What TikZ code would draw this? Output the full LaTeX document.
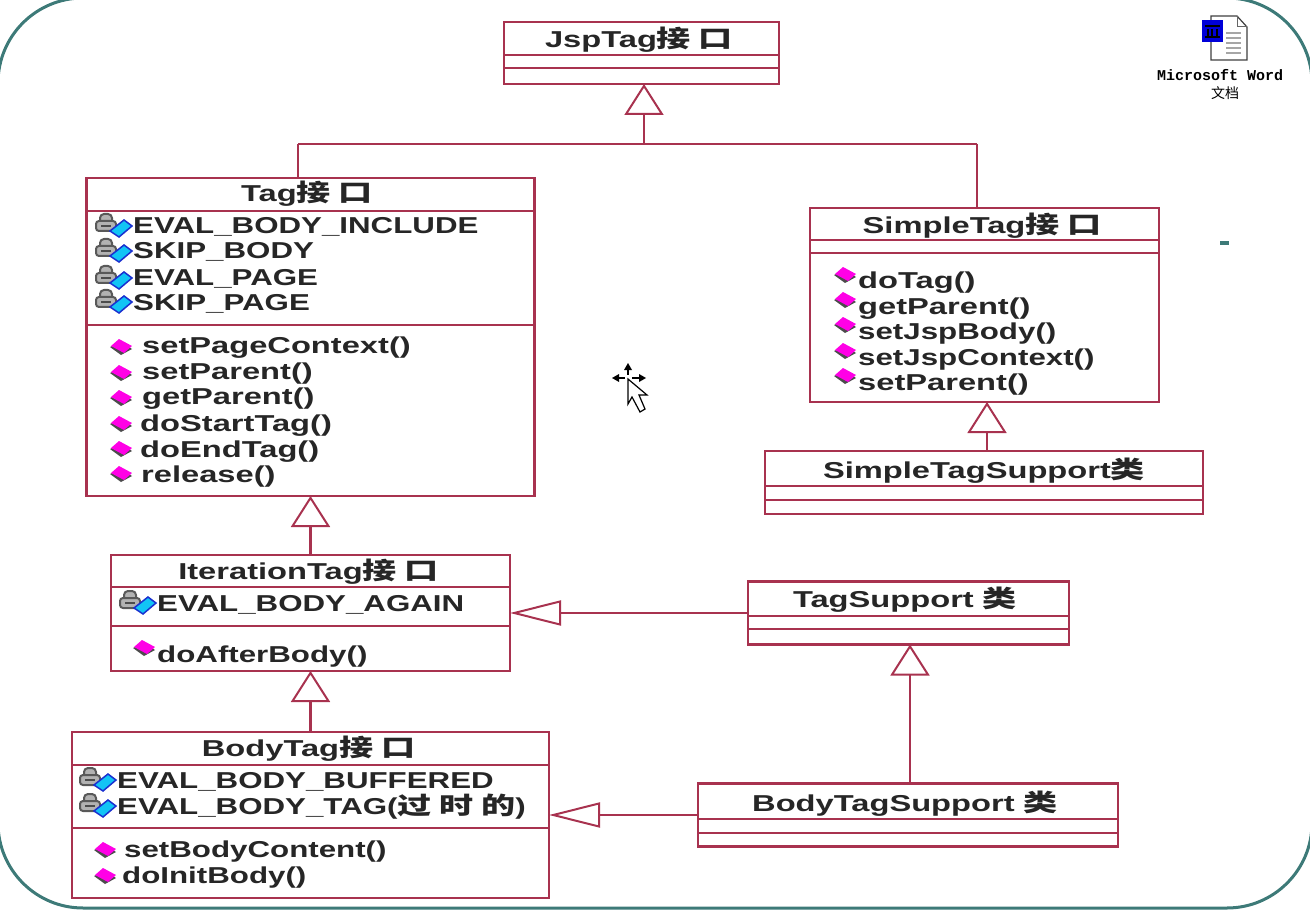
\documentclass[tikz,border=0pt]{standalone}
\usepackage{fontspec}
\setmainfont{Liberation Sans}[FakeStretch=1.36]
\newfontfamily\wideopfont{Liberation Sans}[FakeStretch=1.42]
\newfontfamily\zhwide{Noto Sans CJK SC}[FakeStretch=1.42]
\newfontfamily\zhfont{Noto Sans CJK SC}
\newfontfamily\iconfont{Liberation Mono}
\usepackage{tikz}
\usetikzlibrary{arrows.meta}
\definecolor{umlred}{HTML}{A8324F}
\definecolor{umlink}{HTML}{262626}
\definecolor{frameteal}{HTML}{3D7A78}
\definecolor{opmagenta}{HTML}{FF00E6}
\definecolor{attrcyan}{HTML}{12C4F5}
\definecolor{attrblue}{HTML}{1A30D0}
\newcommand{\zh}[1]{{\zhwide\fontsize{24}{24}\selectfont #1}}
\tikzset{
	classbox/.style={draw=umlred,line width=2.5pt,fill=white,inner sep=0pt,outer sep=0pt},
	sepline/.style={draw=umlred,line width=2pt},
	rel/.style={draw=umlred,line width=2.5pt},
	isa/.style={rel,-{Triangle[open,length=31pt,width=39pt,line width=2pt]}},
	isaside/.style={rel,-{Triangle[open,length=51pt,width=25pt,line width=2pt]}},
	member/.style={anchor=base west,inner sep=0pt,text=umlink,font=\fontsize{23}{23}\selectfont\bfseries},
	wideop/.style={member,font=\fontsize{23}{23}\wideopfont\bfseries},
	title/.style={anchor=base,inner sep=0pt,text=umlink,font=\fontsize{23}{23}\wideopfont\bfseries},
	pics/attrmark/.style={code={
		\draw[black!65,fill=black!30,line width=2pt,rounded corners=4pt] (-21,-6) -- (-21,-14) -- (-9,-14) -- (-9,-6);
		\draw[black!65,fill=black!30,line width=2pt,rounded corners=3pt] (-25,-7) rectangle (-5,3);
		\fill[black!70] (-20,-3) rectangle (-10,-1);
		\draw[attrblue,fill=attrcyan,line width=1.5pt] (-11,3) -- (3,-8) -- (11,-2) -- (-2,9) -- cycle;
	}},
	pics/opmark/.style={code={
		\fill[black!70] (-11,0) -- (0,8) -- (11,2) -- (0,-5) -- cycle;
		\fill[opmagenta] (-10,-1) -- (-2,-8) -- (11,-1) -- (3,6) -- cycle;
	}}
}
\begin{document}
\begin{tikzpicture}[x=1pt,y=-1pt]
	\useasboundingbox (0,0) rectangle (1310,912);
	\draw[frameteal,line width=3pt,rounded corners=85pt] (-2,-2) rectangle (1312,908);
	%
	\node[classbox,minimum width=275,minimum height=62] (jsp) at (641.5,53) {};
	\node[classbox,minimum width=448,minimum height=318] (tag) at (310.5,337) {};
	\node[classbox,minimum width=349,minimum height=194] (simpleTag) at (984.5,305) {};
	\node[classbox,minimum width=438,minimum height=63] (simpleSupport) at (984,482.5) {};
	\node[classbox,minimum width=399,minimum height=116] (iter) at (310.5,613) {};
	\node[classbox,minimum width=321,minimum height=63] (tagSupport) at (908.5,613) {};
	\node[classbox,minimum width=477,minimum height=166] (bodyTag) at (310.5,815) {};
	\node[classbox,minimum width=420,minimum height=63] (bodySupport) at (908,815) {};
	%
	\path[sepline]
	(jsp.west |- 0,55) edge (jsp.east |- 0,55)
	(jsp.west |- 0,68) edge (jsp.east |- 0,68)
	(tag.west |- 0,211) edge (tag.east |- 0,211)
	(tag.west |- 0,325) edge (tag.east |- 0,325)
	(simpleTag.west |- 0,240) edge (simpleTag.east |- 0,240)
	(simpleTag.west |- 0,253) edge (simpleTag.east |- 0,253)
	(simpleSupport.west |- 0,486) edge (simpleSupport.east |- 0,486)
	(simpleSupport.west |- 0,500) edge (simpleSupport.east |- 0,500)
	(iter.west |- 0,587) edge (iter.east |- 0,587)
	(iter.west |- 0,626) edge (iter.east |- 0,626)
	(tagSupport.west |- 0,616) edge (tagSupport.east |- 0,616)
	(tagSupport.west |- 0,629) edge (tagSupport.east |- 0,629)
	(bodyTag.west |- 0,765) edge (bodyTag.east |- 0,765)
	(bodyTag.west |- 0,828) edge (bodyTag.east |- 0,828)
	(bodySupport.west |- 0,819) edge (bodySupport.east |- 0,819)
	(bodySupport.west |- 0,833) edge (bodySupport.east |- 0,833);
	%
	\coordinate (jspJoin) at (644,144);
	\coordinate (jspLeft) at (298,144);
	\coordinate (jspRight) at (977,144);
	\coordinate (simpleFoot) at (987,451);
	\coordinate (bodyFoot) at (910,784);
	%
	\path
	(jspLeft) edge[rel] (jspRight)
	(jspLeft) edge[rel] (jspLeft |- tag.north)
	(jspRight) edge[rel] (jspRight |- simpleTag.north)
	(jspJoin) edge[isa] (jspJoin |- jsp.south)
	(simpleFoot) edge[isa] (simpleFoot |- simpleTag.south)
	(iter.north) edge[isa] (tag.south)
	(tagSupport.west) edge[isaside] (iter.east)
	(bodyTag.north) edge[isa] (iter.south)
	(bodyFoot) edge[isa] (bodyFoot |- tagSupport.south)
	(bodySupport.west) edge[isaside] (bodyTag.east);
	%
	\node[title] (jspTitle) at (639,48) {JspTag\zh{接 口}};
	\node[title] (tagTitle) at (307,202) {Tag\zh{接 口}};
	\node[title] (simpleTagTitle) at (982,234) {SimpleTag\zh{接 口}};
	\node[title] (simpleSupportTitle) at (984,478) {SimpleTagSupport\zh{类}};
	\node[title] (iterTitle) at (308.5,579) {IterationTag\zh{接 口}};
	\node[title] (tagSupportTitle) at (905,607) {TagSupport \zh{类}};
	\node[title] (bodyTagTitle) at (308.5,756) {BodyTag\zh{接 口}};
	\node[title] (bodySupportTitle) at (905,811) {BodyTagSupport \zh{类}};
	%
	\node[member] (tagA) at (133,234) {EVAL\_BODY\_INCLUDE};
	\node[member] (tagB) at (133,259) {SKIP\_BODY};
	\node[member] (tagC) at (133,286) {EVAL\_PAGE};
	\node[member] (tagD) at (133,310) {SKIP\_PAGE};
	\node[wideop] (tagE) at (142,353) {setPageContext()};
	\node[wideop] (tagF) at (142,379) {setParent()};
	\node[wideop] (tagG) at (142,404) {getParent()};
	\node[wideop] (tagH) at (140,431) {doStartTag()};
	\node[wideop] (tagI) at (140,457) {doEndTag()};
	\node[wideop] (tagJ) at (141,482) {release()};
	%
	\node[wideop] (simpleA) at (858,289) {doTag()};
	\node[wideop] (simpleB) at (858,314) {getParent()};
	\node[member] (simpleC) at (858,339) {setJspBody()};
	\node[member] (simpleD) at (858,365) {setJspContext()};
	\node[wideop] (simpleE) at (858,390) {setParent()};
	%
	\node[member] (iterA) at (157,611) {EVAL\_BODY\_AGAIN};
	\node[member] (iterB) at (157,662) {doAfterBody()};
	%
	\node[member] (bodyA) at (117,788) {EVAL\_BODY\_BUFFERED};
	\node[member] (bodyB) at (117,814) {EVAL\_BODY\_TAG(\zh{过 时 的})};
	\node[member] (bodyC) at (124,857) {setBodyContent()};
	\node[member] (bodyD) at (122,883) {doInitBody()};
	%
	\foreach \px/\py in {121/228,121/253,121/280,121/304,145/605,105/782,105/808}
		\pic at (\px,\py) {attrmark};
	\foreach \px/\py in {121/347,121/373,121/398,121/424,121/449,121/474,
		845/275,845/300,845/325,845/351,845/376,144/648,105/850,105/876}
		\pic at (\px,\py) {opmark};
	%
	% word icon
	\draw[black!75,fill=white,line width=1.2pt] (1211,16) -- (1237,16) -- (1247,27) -- (1247,60) -- (1211,60) -- cycle;
	\draw[black!60,line width=1pt] (1237,16) -- (1237,27) -- (1247,27);
	\foreach \ly in {33,38,43,48,53}
		\draw[black!35,line width=1.5pt] (1226,\ly) -- (1241,\ly);
	\fill[blue!85!black] (1202,20) rectangle (1223,42);
	\draw[black,line width=1.5pt] (1205,26) -- (1220,26) (1208,29) -- (1208,36) (1212,29) -- (1212,36) (1217,29) -- (1217,36) (1205,37) -- (1220,37);
	\node[inner sep=0pt,anchor=base,font=\fontsize{15}{15}\iconfont\bfseries] (wordName) at (1220,81) {Microsoft Word};
	\node[inner sep=0pt,anchor=base,font=\fontsize{14}{14}\zhfont] (wordSub) at (1225,99) {文档};
	%
	\fill[frameteal] (1220,241) rectangle (1229,245);
	%
	% move cursor
	\draw[black,line width=1.2pt] (628,368) -- (628,375) (617,378) -- (625,378) (632,378) -- (641,378);
	\fill[black] (628,363) -- (632,370) -- (624,370) -- cycle;
	\fill[black] (612,378) -- (619,374) -- (619,382) -- cycle;
	\fill[black] (646,378) -- (639,374) -- (639,382) -- cycle;
	\draw[black,fill=white,line width=1.2pt] (628,379) -- (628,404) -- (632,397) -- (640,412) -- (645,409) -- (639,395) -- (647,395) -- cycle;
\end{tikzpicture}
\end{document}
